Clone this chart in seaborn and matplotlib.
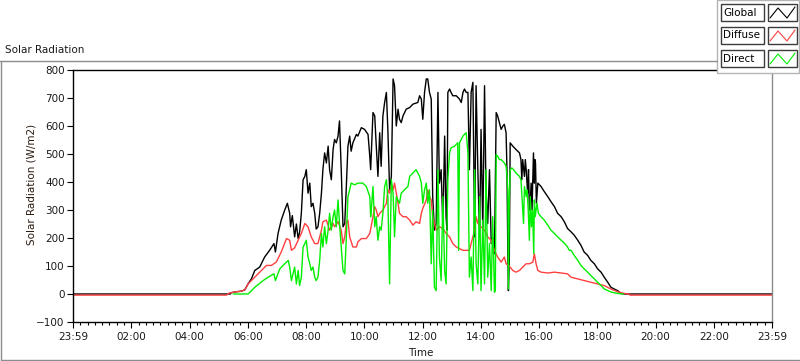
#Solar radiation chart (LabVIEW style) rebuilt with seaborn
import pandas as pd
import matplotlib
matplotlib.use('Agg')
from matplotlib import pyplot as plt
from matplotlib.lines import Line2D
from matplotlib.patches import Rectangle
from matplotlib.ticker import MultipleLocator
import seaborn as sns

global_t = [0.00, 5.40, 5.44, 5.60, 5.78, 5.90, 6.01, 6.13, 6.24, 6.41, 6.58, 6.75, 6.90, 6.95,
            7.04, 7.15, 7.27, 7.36, 7.44, 7.47, 7.53, 7.61, 7.67, 7.73, 7.78, 7.84, 7.90, 7.96,
            8.01, 8.07, 8.13, 8.18, 8.24, 8.30, 8.35, 8.41, 8.47, 8.53, 8.58, 8.64, 8.70, 8.76,
            8.81, 8.87, 8.93, 8.98, 9.04, 9.10, 9.15, 9.21, 9.27, 9.33, 9.38, 9.44, 9.50, 9.55,
            9.61, 9.73, 9.78, 9.90, 10.01, 10.13, 10.19, 10.22, 10.30, 10.36, 10.41, 10.47, 10.53,
            10.58, 10.64, 10.70, 10.76, 10.81, 10.87, 10.93, 10.99, 11.04, 11.10, 11.16, 11.21,
            11.27, 11.33, 11.44, 11.56, 11.67, 11.84, 11.90, 11.96, 12.01, 12.07, 12.13, 12.18,
            12.24, 12.30, 12.35, 12.41, 12.47, 12.53, 12.58, 12.64, 12.70, 12.76, 12.81, 12.84,
            12.87, 12.93, 12.98, 13.04, 13.16, 13.27, 13.33, 13.39, 13.44, 13.50, 13.56, 13.61,
            13.67, 13.73, 13.79, 13.84, 13.90, 13.96, 14.01, 14.07, 14.13, 14.18, 14.24, 14.30,
            14.36, 14.41, 14.47, 14.49, 14.53, 14.58, 14.64, 14.70, 14.76, 14.81, 14.87, 14.90,
            14.93, 14.95, 14.98, 15.01, 15.10, 15.21, 15.33, 15.38, 15.41, 15.44, 15.50, 15.53,
            15.56, 15.61, 15.64, 15.67, 15.70, 15.73, 15.76, 15.81, 15.84, 15.86, 15.88, 15.91,
            15.96, 16.07, 16.18, 16.30, 16.41, 16.53, 16.64, 16.76, 16.87, 16.98, 17.10, 17.21,
            17.33, 17.44, 17.55, 17.67, 17.78, 17.90, 18.01, 18.13, 18.24, 18.36, 18.47, 18.58,
            18.70, 18.81, 18.93, 24.00]
global_v = [0, 0, 5, 8, 10, 15, 36, 55, 84, 96, 132, 156, 180, 150,
            216, 264, 300, 324, 288, 240, 280, 204, 250, 198, 220, 288, 408, 420,
            444, 360, 396, 312, 324, 288, 232, 240, 288, 360, 444, 504, 468, 528,
            444, 408, 516, 552, 540, 564, 618, 444, 240, 252, 372, 528, 564, 510,
            540, 570, 564, 594, 588, 570, 492, 444, 648, 636, 534, 420, 576,
            456, 636, 684, 720, 588, 372, 420, 768, 744, 600, 660, 624,
            612, 636, 660, 666, 678, 684, 708, 696, 624, 720, 768, 768,
            720, 696, 348, 228, 252, 720, 396, 444, 240, 564, 276, 228,
            720, 732, 720, 708, 708, 696, 684, 720, 732, 720, 720, 444,
            720, 756, 204, 744, 444, 204, 588, 228, 744, 372, 252, 444,
            180, 204, 144, 300, 648, 636, 612, 588, 600, 606, 576, 444,
            144, 12, 120, 540, 528, 516, 504, 480, 408, 480, 420, 480,
            444, 360, 444, 300, 324, 396, 300, 504, 396, 480, 468, 324,
            396, 384, 366, 348, 330, 312, 288, 276, 258, 234, 222, 210,
            192, 174, 150, 138, 120, 108, 90, 78, 60, 42, 24, 18,
            12, 2, 0, 0]

diffuse_t = [0.00, 5.27, 5.35, 5.60, 5.78, 5.90, 6.01, 6.24, 6.47, 6.64, 6.81, 6.98, 7.15, 7.33,
             7.44, 7.50, 7.61, 7.73, 7.84, 7.96, 8.07, 8.18, 8.30, 8.41, 8.53, 8.58, 8.70, 8.81,
             8.93, 8.98, 9.10, 9.21, 9.27, 9.33, 9.38, 9.44, 9.50, 9.61, 9.73, 9.78, 9.90, 10.07,
             10.19, 10.30, 10.36, 10.41, 10.47, 10.53, 10.64, 10.76, 10.81, 10.87, 10.93, 10.99,
             11.04, 11.10, 11.16, 11.21, 11.33, 11.44, 11.56, 11.67, 11.78, 11.90, 11.96, 12.01,
             12.13, 12.18, 12.24, 12.30, 12.35, 12.47, 12.58, 12.70, 12.81, 12.93, 13.04, 13.16,
             13.27, 13.39, 13.61, 13.67, 13.73, 13.79, 13.84, 13.90, 14.01, 14.13, 14.24, 14.36,
             14.47, 14.58, 14.70, 14.81, 14.87, 15.01, 15.10, 15.21, 15.33, 15.44, 15.56, 15.67,
             15.79, 15.84, 15.90, 15.96, 16.07, 16.30, 16.53, 16.76, 16.98, 17.10, 17.33, 17.55,
             17.78, 18.01, 18.24, 18.47, 18.70, 18.93, 19.10, 19.12, 24.00]
diffuse_v = [-4, -4, 3, 8, 10, 15, 36, 60, 84, 102, 102, 114, 150, 198,
             192, 156, 165, 192, 216, 252, 240, 204, 180, 180, 228, 258, 264, 228,
             252, 240, 258, 228, 180, 204, 252, 264, 204, 168, 168, 186, 198, 198,
             216, 276, 312, 300, 276, 288, 300, 324, 372, 360, 390, 372,
             396, 360, 324, 288, 276, 276, 264, 246, 258, 252, 288, 306,
             336, 372, 348, 336, 276, 228, 240, 234, 216, 204, 180, 168,
             162, 156, 156, 180, 204, 228, 276, 252, 240, 228, 204, 192,
             156, 132, 114, 132, 108, 96, 84, 78, 84, 96, 108, 108,
             114, 144, 108, 84, 78, 75, 78, 75, 72, 60, 54, 48,
             42, 36, 30, 18, 8, 2, 0, -4, -4]

direct_t = [5.50, 6.01, 6.13, 6.24, 6.53, 6.70, 6.90, 6.95, 7.10, 7.27, 7.39, 7.44, 7.47, 7.50,
            7.61, 7.67, 7.73, 7.78, 7.84, 7.90, 7.96, 8.01, 8.07, 8.13, 8.18, 8.24, 8.30, 8.35,
            8.41, 8.47, 8.53, 8.58, 8.64, 8.70, 8.76, 8.81, 8.87, 8.93, 8.98, 9.04, 9.10, 9.15,
            9.21, 9.27, 9.33, 9.38, 9.44, 9.50, 9.55, 9.67, 9.78, 9.95, 10.07, 10.19, 10.22,
            10.25, 10.30, 10.36, 10.41, 10.47, 10.53, 10.58, 10.64, 10.70, 10.76, 10.81, 10.87,
            10.93, 10.99, 11.04, 11.10, 11.21, 11.27, 11.38, 11.50, 11.56, 11.67, 11.78, 11.90,
            11.96, 12.01, 12.07, 12.13, 12.18, 12.24, 12.30, 12.35, 12.41, 12.47, 12.53, 12.58,
            12.64, 12.70, 12.76, 12.81, 12.87, 12.93, 12.98, 13.10, 13.21, 13.24, 13.27, 13.39,
            13.44, 13.50, 13.56, 13.61, 13.67, 13.73, 13.79, 13.84, 13.90, 13.96, 14.01, 14.07,
            14.13, 14.18, 14.24, 14.30, 14.36, 14.41, 14.47, 14.50, 14.53, 14.58, 14.64, 14.70,
            14.81, 14.87, 14.90, 14.93, 14.95, 14.98, 15.01, 15.07, 15.13, 15.21, 15.33, 15.38,
            15.47, 15.50, 15.56, 15.59, 15.63, 15.67, 15.70, 15.74, 15.78, 15.82, 15.84, 15.87,
            15.93, 15.98, 16.07, 16.18, 16.30, 16.41, 16.53, 16.64, 16.76, 16.87, 16.98, 17.04,
            17.10, 17.21, 17.33, 17.44, 17.55, 17.67, 17.78, 17.90, 18.01, 18.13, 18.24, 18.47,
            18.70, 18.90]
direct_v = [0, 0, 12, 24, 48, 60, 72, 48, 90, 108, 120, 96, 72, 48,
            96, 36, 84, 30, 60, 168, 180, 192, 132, 108, 84, 96, 60, 48,
            60, 120, 216, 168, 240, 180, 228, 288, 228, 276, 300, 240, 336, 252,
            168, 84, 72, 192, 348, 372, 396, 390, 396, 396, 384, 348, 276,
            312, 384, 240, 276, 192, 240, 228, 288, 384, 408, 348, 36,
            408, 360, 204, 348, 324, 360, 372, 384, 420, 432, 444, 420,
            396, 324, 372, 396, 324, 372, 108, 300, 24, 12, 444, 132,
            48, 348, 84, 36, 408, 504, 522, 528, 540, 156, 540, 564,
            570, 576, 504, 60, 132, 12, 444, 108, 36, 348, 12, 264,
            36, 444, 60, 180, 12, 276, 6, 12, 498, 492, 480, 480,
            468, 456, 420, 372, 18, 336, 444, 450, 444, 432, 420, 408,
            252, 384, 348, 372, 300, 192, 348, 240, 300, 144, 336, 276,
            324, 288, 276, 264, 246, 228, 216, 204, 192, 182, 168, 156,
            156, 138, 120, 102, 90, 78, 66, 54, 42, 30, 18, 7,
            2, 0]

series_names = ['Global', 'Diffuse', 'Direct']
series_colors = ['#000000', '#ff4040', '#00ee00']
x_ticks = list(range(0, 25, 2))
x_tick_labels = ['23:59', '02:00', '04:00', '06:00', '08:00', '10:00', '12:00',
                 '14:00', '16:00', '18:00', '20:00', '22:00', '23:59']
y_ticks = list(range(-100, 900, 100))

W, H = 800, 361

def fx(x):
    return x / W

def fy(y):
    return 1 - y / H

sns.set_style('ticks')
plt.rcParams['font.family'] = ['DejaVu Sans']

fig = plt.figure(figsize=(W / 100, H / 100), dpi=100)
ax = fig.add_axes([fx(73), fy(322), (772 - 73) / W, (322 - 70) / H])

frames = [pd.DataFrame({'t': global_t, 'v': global_v}),
          pd.DataFrame({'t': diffuse_t, 'v': diffuse_v}),
          pd.DataFrame({'t': direct_t, 'v': direct_v})]
for df, name, col in zip(frames, series_names, series_colors):
    sns.lineplot(data=df, x='t', y='v', color=col, lw=1.0, ax=ax,
                 estimator=None, sort=False, label=name, legend=False)

ax.set_xlim(0, 24)
ax.set_ylim(-100, 800)
ax.set_xticks(x_ticks)
ax.set_xticklabels(x_tick_labels)
ax.xaxis.set_minor_locator(MultipleLocator(0.25))
ax.set_yticks(y_ticks)
ax.tick_params(axis='both', which='major', length=4.5, width=0.8, color='black',
               labelsize=7.5, labelcolor='#1a1a1a')
ax.tick_params(axis='x', which='major', pad=2.5)
ax.tick_params(axis='y', which='major', pad=1.5)
ax.tick_params(axis='x', which='minor', length=2.5, width=0.8, color='black')
ax.set_xlabel('')
ax.set_ylabel('')
for side in ['left', 'top', 'bottom']:
    ax.spines[side].set_color('black')
    ax.spines[side].set_linewidth(1.0)
ax.spines['right'].set_visible(True)
ax.spines['top'].set_visible(True)
ax.spines['right'].set_color('#8a8a8a')
ax.spines['right'].set_linewidth(1.0)

# axis labels and title
fig.text(fx(31), fy(184), 'Solar Radiation (W/m2)', rotation=90, ha='center',
         va='center', fontsize=7.5, color='#2a1a10')
fig.text(fx(421), fy(353), 'Time', ha='center', va='center', fontsize=7.5, color='#1a1a1a')
fig.text(fx(5), fy(50), 'Solar Radiation', ha='left', va='center', fontsize=7.5,
         color='#1a1a1a')

# outer grey frame
frame_col = '#8c8c8c'
fig.add_artist(Line2D([fx(0), fx(717)], [fy(61), fy(61)], color=frame_col, lw=1.0))
fig.add_artist(Line2D([fx(1), fx(1)], [fy(61), fy(360)], color=frame_col, lw=1.0))
fig.add_artist(Line2D([fx(1), fx(799)], [fy(360), fy(360)], color=frame_col, lw=1.0))

# LabVIEW style legend box
fig.add_artist(Rectangle((fx(717), fy(73)), (799 - 717) / W, 73 / H,
                         transform=fig.transFigure, facecolor='white',
                         edgecolor='#b4b4b4', lw=1.0))
row_tops = [4, 27, 50]
for top, name, col in zip(row_tops, series_names, series_colors):
    fig.add_artist(Rectangle((fx(721), fy(top + 17)), 43 / W, 17 / H,
                             transform=fig.transFigure, facecolor='white',
                             edgecolor='#3c3c3c', lw=1.0))
    fig.text(fx(723), fy(top + 8.5), name, ha='left', va='center', fontsize=7.5,
             color='black')
    fig.add_artist(Rectangle((fx(768), fy(top + 17)), 29 / W, 17 / H,
                             transform=fig.transFigure, facecolor='white',
                             edgecolor='#3c3c3c', lw=1.0))
    zx = [fx(770), fx(778), fx(787), fx(795)]
    zy = [fy(top + 14), fy(top + 4), fy(top + 14), fy(top + 3)]
    fig.add_artist(Line2D(zx, zy, color=col, lw=0.8))

fig.savefig('out.png', dpi=100)
